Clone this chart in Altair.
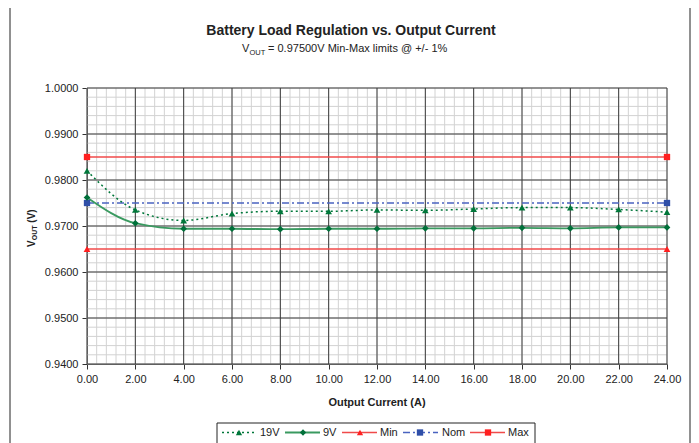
import altair as alt
import pandas as pd

# ---- data ----
current = [0, 2, 4, 6, 8, 10, 12, 14, 16, 18, 20, 22, 24]
v19 = [0.9820, 0.9735, 0.9712, 0.9727, 0.9732, 0.9732, 0.9735, 0.9734, 0.9737, 0.9740, 0.9740, 0.9736, 0.9730]
v9 = [0.9762, 0.9706, 0.9694, 0.9694, 0.9693, 0.9694, 0.9694, 0.9695, 0.9695, 0.9696, 0.9695, 0.9697, 0.9697]
limit_x = [0, 24]
v_min = [0.965, 0.965]
v_nom = [0.975, 0.975]
v_max = [0.985, 0.985]

x_major = [0, 2, 4, 6, 8, 10, 12, 14, 16, 18, 20, 22, 24]
y_major = [0.94, 0.95, 0.96, 0.97, 0.98, 0.99, 1.0]
x_minor = [round(i * 0.4, 1) for i in range(61)]
y_minor = [round(0.94 + i * 0.002, 3) for i in range(31)]

FONT = "Liberation Sans"
W, H = 580, 276

xs = alt.Scale(domain=[0, 24], nice=False, zero=False)
ys = alt.Scale(domain=[0.94, 1.0], nice=False, zero=False)
xaxis = alt.Axis(values=x_major, format=".2f", title=None, grid=False, tickSize=5,
                 tickColor="#333", domainColor="#333", labelFont=FONT, labelFontSize=11,
                 labelColor="#222", labelPadding=4, labelFlush=False)
yaxis = alt.Axis(values=y_major, format=".4f", title=None, grid=False, tickSize=5,
                 tickColor="#333", domainColor="#333", labelFont=FONT, labelFontSize=11,
                 labelColor="#222", labelPadding=4)


def X(f):
    return alt.X(f, type="quantitative", scale=xs, axis=xaxis)


def Y(f):
    return alt.Y(f, type="quantitative", scale=ys, axis=yaxis)


one = pd.DataFrame({"k": [0]})

border = alt.Chart(one).mark_rect(fillOpacity=0, stroke="#222", strokeWidth=1).encode(
    x=alt.value(-77), x2=alt.value(603), y=alt.value(-81), y2=alt.value(420))

minor_x = alt.Chart(pd.DataFrame({"gx": x_minor})).mark_rule(color="#d2d2d2", strokeWidth=1).encode(x=X("gx"))
minor_y = alt.Chart(pd.DataFrame({"gy": y_minor})).mark_rule(color="#d2d2d2", strokeWidth=1).encode(y=Y("gy"))
major_x = alt.Chart(pd.DataFrame({"gx": x_major})).mark_rule(color="#3c3c3c", strokeWidth=1).encode(x=X("gx"))
major_y = alt.Chart(pd.DataFrame({"gy": y_major})).mark_rule(color="#3c3c3c", strokeWidth=1).encode(y=Y("gy"))

df_lim = pd.DataFrame({"I": limit_x, "vmin": v_min, "vnom": v_nom, "vmax": v_max})
min_line = alt.Chart(df_lim).mark_line(color="#f04a4a", strokeWidth=1.3).encode(x=X("I"), y=Y("vmin"))
max_line = alt.Chart(df_lim).mark_line(color="#f04a4a", strokeWidth=1.3).encode(x=X("I"), y=Y("vmax"))
nom_line = alt.Chart(df_lim).mark_line(color="#4a63c0", strokeWidth=1.3, strokeDash=[7, 3, 2, 3]).encode(x=X("I"), y=Y("vnom"))
min_pts = alt.Chart(df_lim).mark_point(shape="triangle-up", filled=True, size=45, color="#ff2020", opacity=1).encode(x=X("I"), y=Y("vmin"))
max_pts = alt.Chart(df_lim).mark_point(shape="square", filled=True, size=40, color="#ff2020", opacity=1).encode(x=X("I"), y=Y("vmax"))
nom_pts = alt.Chart(df_lim).mark_point(shape="square", filled=True, size=40, color="#2f4fa8", opacity=1).encode(x=X("I"), y=Y("vnom"))

df19 = pd.DataFrame({"I": current, "V": v19})
df9 = pd.DataFrame({"I": current, "V": v9})
line9 = alt.Chart(df9).mark_line(color="#3a9a60", strokeWidth=1.8, interpolate="monotone").encode(x=X("I"), y=Y("V"))
pts9 = alt.Chart(df9).mark_point(shape="diamond", filled=True, size=45, color="#00703a", opacity=1).encode(x=X("I"), y=Y("V"))
line19 = alt.Chart(df19).mark_line(color="#00773a", strokeWidth=1.5, strokeDash=[2, 3], interpolate="monotone").encode(x=X("I"), y=Y("V"))
pts19 = alt.Chart(df19).mark_point(shape="triangle-up", filled=True, size=45, color="#00773a", opacity=1).encode(x=X("I"), y=Y("V"))


def txt(text, x, y, size, bold=False, align="left", angle=0, baseline="alphabetic"):
    kw = dict(text=text, font=FONT, fontSize=size, color="#222", align=align, baseline=baseline)
    if bold:
        kw["fontWeight"] = "bold"
    if angle:
        kw["angle"] = angle
    return alt.Chart(one).mark_text(**kw).encode(x=alt.value(x), y=alt.value(y))


texts = [
    txt("Battery Load Regulation vs. Output Current", 264, -53, 14, bold=True, align="center"),
    txt("V", 155, -36, 11),
    txt("OUT", 162.5, -33.5, 7.5),
    txt("= 0.97500V Min-Max limits @ +/- 1%", 181, -36, 11),
    txt("Output Current (A)", 290, 318, 11, bold=True, align="center"),
    txt("V", -52, 159, 10, bold=True, angle=270),
    txt("OUT", -50, 152.3, 7, bold=True, angle=270),
    txt("(V)", -52, 134.7, 10, bold=True, angle=270),
]

# ---- legend ----
LY = 344.5
legend_box = alt.Chart(one).mark_rect(fill="white", stroke="#222", strokeWidth=1).encode(
    x=alt.value(130), x2=alt.value(448), y=alt.value(335), y2=alt.value(365))
legend = [legend_box]
items = [
    ("19V", 135, 169, 152, 173, dict(color="#00773a", strokeWidth=1.5, strokeDash=[2, 3]), ("triangle-up", "#00773a")),
    ("9V", 198, 233, 216, 236, dict(color="#3a9a60", strokeWidth=1.8), ("diamond", "#00703a")),
    ("Min", 255, 290, 273, 293, dict(color="#f04a4a", strokeWidth=1.3), ("triangle-up", "#ff2020")),
    ("Nom", 316, 351, 333, 355, dict(color="#4a63c0", strokeWidth=1.3, strokeDash=[7, 3, 2, 3]), ("square", "#2f4fa8")),
    ("Max", 383, 418, 401, 421, dict(color="#f04a4a", strokeWidth=1.3), ("square", "#ff2020")),
]
for name, a, b, m, t, style, (shape, mcol) in items:
    legend.append(alt.Chart(one).mark_rule(**style).encode(x=alt.value(a), x2=alt.value(b), y=alt.value(LY)))
    legend.append(alt.Chart(one).mark_point(shape=shape, filled=True, size=40, color=mcol, opacity=1).encode(
        x=alt.value(m), y=alt.value(LY)))
    legend.append(txt(name, t, LY, 11, baseline="middle"))

chart = alt.layer(
    border, minor_x, minor_y, major_x, major_y,
    min_line, max_line, nom_line, line9, line19,
    min_pts, max_pts, nom_pts, pts9, pts19,
    *texts, *legend,
).properties(
    width=W, height=H,
    padding={"left": 79, "top": 80, "right": 24, "bottom": 79},
    autosize=alt.AutoSizeParams(type="none"),
    background="white",
).configure_view(strokeWidth=0)

chart.save("out.html", embed_options={"renderer": "svg", "actions": False})
